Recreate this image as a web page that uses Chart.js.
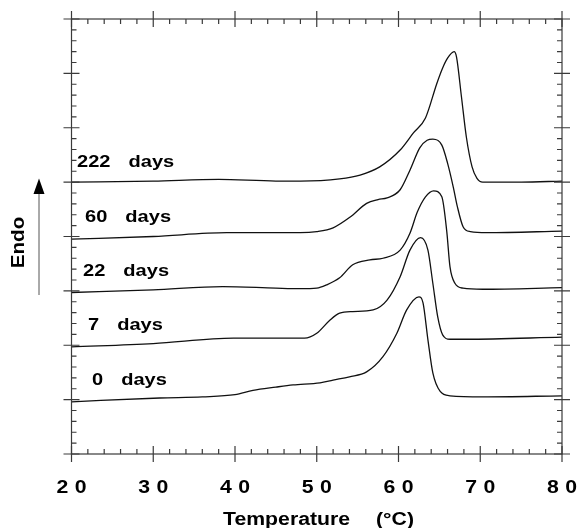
<!DOCTYPE html>
<html lang="en">
<head>
    <meta charset="UTF-8">
    <title>DSC curves</title>
    <script src="https://cdn.jsdelivr.net/npm/chart.js"></script>
    <style>
        html, body { margin: 0; padding: 0; background: #fff; }
        #wrap { width: 581px; height: 528px; }
    </style>
</head>
<body>
    <div id="wrap"><canvas id="dsc" width="581" height="528"></canvas></div>

    <script>
        // Curves: temperature (°C) and heat flow in tick units
        const ageDays = [0, 7, 22, 60, 222];

        const t0 = [20, 30.8, 36, 40, 42.2, 45, 47.1, 50.4, 52, 54, 56.1, 58.1, 59.8, 61.0, 62.5, 63.0, 63.6, 64.2, 65.1, 66.3, 70.3, 80];
        const y0 = [0.96, 1.03, 1.05, 1.09, 1.17, 1.23, 1.27, 1.31, 1.36, 1.42, 1.51, 1.79, 2.22, 2.65, 2.89, 2.78, 2.10, 1.49, 1.15, 1.07, 1.05, 1.07];

        const t7 = [20, 30, 39.8, 45, 48.5, 50, 51.6, 52.8, 54.4, 56.9, 58.6, 60.2, 61.4, 62.7, 63.6, 64.2, 64.8, 65.4, 66.3, 68.3, 80];
        const y7 = [1.97, 2.03, 2.13, 2.13, 2.13, 2.22, 2.46, 2.59, 2.62, 2.65, 2.83, 3.26, 3.75, 3.98, 3.75, 3.14, 2.52, 2.19, 2.11, 2.11, 2.15];

        const t22 = [20, 30, 38.5, 45, 48, 50, 51.2, 52.8, 54.4, 56.5, 58.1, 60.2, 61.4, 62.3, 63.3, 64.3, 65.3, 65.9, 66.3, 66.9, 67.9, 70.3, 80];
        const y22 = [2.97, 3.02, 3.08, 3.05, 3.04, 3.05, 3.11, 3.24, 3.48, 3.57, 3.60, 3.75, 4.06, 4.45, 4.73, 4.84, 4.73, 4.10, 3.44, 3.14, 3.05, 3.03, 3.06];

        const t60 = [20, 30, 39, 45, 48, 50, 52, 54.1, 56.1, 57.5, 58.6, 60.2, 61.4, 62.6, 63.5, 64.2, 65.3, 66.0, 66.7, 67.2, 67.9, 68.8, 70.8, 80];
        const y60 = [3.95, 4.00, 4.07, 4.07, 4.07, 4.09, 4.16, 4.36, 4.61, 4.68, 4.71, 4.86, 5.22, 5.63, 5.77, 5.79, 5.68, 5.35, 4.91, 4.55, 4.18, 4.09, 4.07, 4.10];

        const t222 = [20, 30, 38, 45, 48, 52.8, 55.3, 57.7, 60.2, 61.8, 63.3, 64.7, 65.4, 66.0, 66.8, 67.1, 67.7, 68.3, 69.0, 69.6, 70.3, 75, 80];
        const y222 = [5.00, 5.02, 5.05, 5.02, 5.02, 5.06, 5.13, 5.28, 5.59, 5.90, 6.18, 6.82, 7.10, 7.28, 7.40, 7.30, 6.57, 5.83, 5.28, 5.07, 5.00, 5.00, 5.02];

        const xTicks = [20, 30, 40, 50, 60, 70, 80];
        const xTickLabels = ['20', '30', '40', '50', '60', '70', '80'];

        const series = [[t0, y0], [t7, y7], [t22, y22], [t60, y60], [t222, y222]];

        // label placement (pixels) for the "N days" captions
        const labelLeft = [92, 88, 83, 85, 77];
        const STRETCH = 1.18;
        const FONT = '"Liberation Sans", Arial, Helvetica, sans-serif';

        function drawText(ctx, str, x, y, size, align) {
            ctx.save();
            ctx.translate(x, y);
            ctx.scale(STRETCH, 1);
            ctx.font = 'bold ' + size + 'px ' + FONT;
            ctx.textAlign = align;
            ctx.textBaseline = 'alphabetic';
            ctx.fillText(str, 0, 0);
            ctx.restore();
        }

        function textWidth(ctx, str, size) {
            ctx.save();
            ctx.font = 'bold ' + size + 'px ' + FONT;
            const w = ctx.measureText(str).width * STRETCH;
            ctx.restore();
            return w;
        }

        const framePlugin = {
            id: 'frame',
            afterDraw(chart) {
                const ctx = chart.ctx;
                const xs = chart.scales.x, ys = chart.scales.y;
                const a = chart.chartArea;
                ctx.save();
                ctx.strokeStyle = '#3a3a3a';
                ctx.lineWidth = 1.2;
                ctx.strokeRect(a.left, a.top, a.right - a.left, a.bottom - a.top);

                ctx.beginPath();
                // x ticks, major every 10 crossing the axis, minor every 2 inside
                for (let v = 20; v <= 80; v += 2) {
                    const px = xs.getPixelForValue(v);
                    const major = (v % 10 === 0);
                    const out = major ? 8 : 0, inn = major ? 8 : 5;
                    ctx.moveTo(px, a.bottom + out); ctx.lineTo(px, a.bottom - inn);
                    ctx.moveTo(px, a.top - out); ctx.lineTo(px, a.top + inn);
                }
                // y ticks, major every unit, 5 minors per unit
                for (let i = 0; i <= 40; i++) {
                    const v = i / 5;
                    const py = ys.getPixelForValue(v);
                    const major = (i % 5 === 0);
                    const out = major ? 8 : 0, inn = major ? 8 : 5;
                    ctx.moveTo(a.left - out, py); ctx.lineTo(a.left + inn, py);
                    ctx.moveTo(a.right + out, py); ctx.lineTo(a.right - inn, py);
                }
                ctx.stroke();

                ctx.fillStyle = '#000';
                // tick labels with wide digit spacing
                xTicks.forEach((v, i) => {
                    const px = xs.getPixelForValue(v);
                    const chars = xTickLabels[i].split('');
                    drawText(ctx, chars[0], px - 9.2, 493, 18, 'center');
                    drawText(ctx, chars[1], px + 9.2, 493, 18, 'center');
                });

                // axis title
                drawText(ctx, 'Temperature', 223, 525, 18, 'left');
                drawText(ctx, '(\u00B0C)', 376, 525, 18, 'left');

                // Endo label and arrow
                ctx.save();
                ctx.translate(24, 242.5);
                ctx.rotate(-Math.PI / 2);
                ctx.scale(1.15, 1);
                ctx.font = 'bold 18px ' + FONT;
                ctx.textAlign = 'center';
                ctx.textBaseline = 'alphabetic';
                ctx.fillText('Endo', 0, 0);
                ctx.restore();

                ctx.strokeStyle = '#555';
                ctx.lineWidth = 1;
                ctx.beginPath();
                ctx.moveTo(39, 295); ctx.lineTo(39, 192);
                ctx.stroke();
                ctx.beginPath();
                ctx.moveTo(39, 178.5); ctx.lineTo(33.5, 194); ctx.lineTo(44.5, 194);
                ctx.closePath();
                ctx.fill();

                // captions above each baseline
                ageDays.forEach((d, i) => {
                    const base = ys.getPixelForValue(Math.round(series[i][1][0]));
                    const y = base - 21 + 6;
                    const num = String(d);
                    drawText(ctx, num, labelLeft[i], y, 17, 'left');
                    drawText(ctx, 'days', labelLeft[i] + textWidth(ctx, num, 17) + 18, y, 17, 'left');
                });
                ctx.restore();
            }
        };

        const datasets = series.map((s, i) => ({
            label: ageDays[i] + ' days',
            data: s[0].map((t, k) => ({ x: t, y: s[1][k] })),
            borderColor: '#111',
            borderWidth: 1.3,
            pointRadius: 0,
            fill: false,
            showLine: true,
            cubicInterpolationMode: 'monotone'
        }));

        new Chart(document.getElementById('dsc').getContext('2d'), {
            type: 'scatter',
            data: { datasets: datasets },
            options: {
                responsive: false,
                animation: false,
                layout: { padding: { left: 71.5, right: 19, top: 19, bottom: 74 } },
                plugins: { legend: { display: false }, tooltip: { enabled: false } },
                scales: {
                    x: { type: 'linear', min: 20, max: 80, display: false },
                    y: { type: 'linear', min: 0, max: 8, display: false }
                }
            },
            plugins: [framePlugin]
        });
    </script>
</body>
</html>
